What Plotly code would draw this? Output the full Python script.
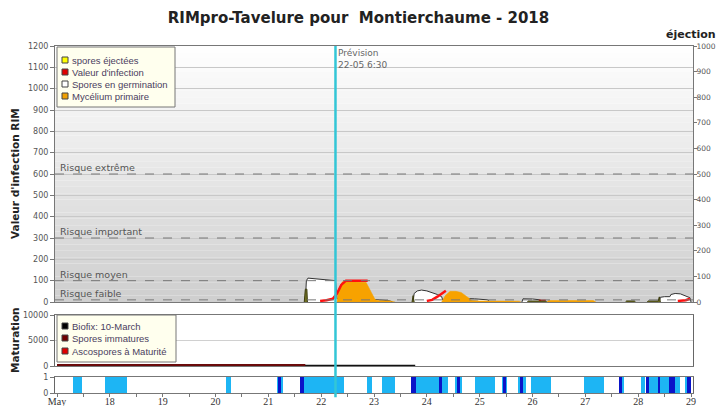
import plotly.graph_objects as go
import pandas as pd

# ---------------- data (days of May 2018, fractional) ----------------
germ_day = [21.70, 21.72, 21.75, 21.85, 22.00, 22.15, 22.27, 22.30, 22.60, 22.90, 23.10, 23.30, 23.35, None,
            23.74, 23.76, 23.82, 23.90, 24.00, 24.10, 24.20, 24.28, 24.30, 24.60, 24.65, 24.90, 25.15, 25.20, None,
            25.80, 25.82, 26.00, 26.15, 26.20, None,
            28.40, 28.42, 28.50, 28.60, 28.62, 28.70, 28.80, 28.90, 28.98, 29.00]
germ_val = [0, 100, 112, 110, 106, 103, 100, 15, 15, 12, 10, 5, 0, None,
            0, 40, 52, 56, 52, 45, 35, 25, 10, 12, 17, 15, 10, 0, None,
            0, 15, 14, 10, 0, None,
            0, 22, 25, 25, 35, 40, 38, 30, 20, 0]

myc_day = [22.30, 22.33, 22.40, 22.85, 22.95, 23.02, 23.05, 23.30, 23.40, None,
           24.28, 24.35, 24.44, 24.55, 24.65, 24.75, 24.85, 25.00, 25.30, 25.75, 25.78, None,
           26.27, 26.30, 27.15, 27.20]
myc_val = [0, 60, 95, 92, 45, 12, 8, 5, 0, None,
           0, 30, 50, 50, 45, 25, 8, 5, 4, 4, 0, None,
           0, 7, 7, 0]

inf_day = [21.98, 22.10, 22.22, 22.30, 22.38, 22.47, 22.88, None,
           24.00, 24.10, 24.20, 24.30, 24.36, None,
           26.12, 26.25, None,
           28.75, 28.90, 28.98]
inf_val = [5, 8, 15, 40, 80, 100, 100, None,
           5, 10, 25, 40, 53, None,
           5, 6, None,
           5, 8, 15]

eject_day = [21.68, 21.70, 21.73, 21.74, None, 23.72, 23.74, 23.76, None,
             25.90, 25.92, 26.25, 26.27, None, 27.76, 27.78, 27.93, 27.95, None,
             28.17, 28.19, 28.38, 28.40, 28.42]
eject_val = [0, 50, 50, 0, None, 0, 25, 0, None,
             0, 4, 4, 0, None, 0, 4, 4, 0, None,
             0, 4, 4, 20, 0]

risk_vals = [600, 300, 100, 10]
risk_labels = ["Risque extrême", "Risque important", "Risque moyen", "Risque faible"]

mat_black_day = [17.0, 23.78]
mat_black_val = [60, 60]
mat_red_day = [17.0, 21.70]
mat_red_val = [220, 220]
mat_ticks = [0, 5000, 10000]

wet_start = [17.30, 17.91, 20.19, 21.17, 21.68, 22.87, 23.15, 23.79, 24.54, 24.92, 25.42, 25.73, 25.98,
             26.98, 27.69, 28.06, 28.21, 28.70, 28.90]
wet_end = [17.47, 18.32, 20.29, 21.28, 22.44, 22.96, 23.39, 24.40, 24.66, 25.29, 25.52, 25.88, 26.35,
           27.36, 27.74, 28.12, 28.59, 28.80, 28.93]
rain_start = [21.18, 21.60, 23.70, 24.23, 24.57, 25.45, 25.77, 27.63, 28.15, 28.37, 28.59, 28.93]
rain_end = [21.24, 21.68, 23.79, 24.28, 24.62, 25.50, 25.82, 27.69, 28.21, 28.42, 28.70, 29.00]

day_ticks = list(range(17, 30))
day_labels = ["May"] + [str(d) for d in range(18, 30)]

forecast_day = 22 + 6.5 / 24
forecast_label = "Prévision<br>22-05 6:30"

legend1_names = ["spores éjectées", "Valeur d'infection", "Spores en germination", "Mycélium primaire"]
legend1_colors = ["#ffff00", "#e00000", "#ffffff", "#f0a000"]
legend2_names = ["Biofix: 10-March", "Spores immatures", "Ascospores à Maturité"]
legend2_colors = ["#000000", "#700000", "#e00000"]

# ---------------- helpers ----------------
BASE = pd.Timestamp("2018-05-01")
W, H = 717, 406
ML, MR, MT, MB = 55, 24, 46, 13
PW, PH = W - ML - MR, H - MT - MB


def t(d):
    return None if d is None else BASE + pd.to_timedelta(d - 1, unit="D")


def ts(days):
    return [t(d) for d in days]


def px(x):
    return (x - ML) / PW


def py(y):
    return (H - MB - y) / PH


FONT = "DejaVu Sans"
fig = go.Figure()

# main panel traces
fig.add_trace(go.Scatter(x=ts(germ_day), y=germ_val, mode="lines", fill="tozeroy",
                         fillcolor="#ffffff", line=dict(color="#333333", width=1),
                         xaxis="x3", yaxis="y", showlegend=False, hoverinfo="skip"))
fig.add_trace(go.Scatter(x=ts(myc_day), y=myc_val, mode="lines", fill="tozeroy",
                         fillcolor="#f7a200", line=dict(color="#f7a200", width=0.5),
                         xaxis="x3", yaxis="y", showlegend=False, hoverinfo="skip"))
fig.add_trace(go.Scatter(x=ts(eject_day), y=eject_val, mode="lines", fill="tozeroy",
                         fillcolor="#6f6f22", line=dict(color="#3c3c10", width=1),
                         xaxis="x3", yaxis="y4", showlegend=False, hoverinfo="skip"))
fig.add_trace(go.Scatter(x=ts(inf_day), y=inf_val, mode="lines",
                         line=dict(color="#ff1010", width=2.5),
                         xaxis="x3", yaxis="y", showlegend=False, hoverinfo="skip"))

# maturation
fig.add_trace(go.Scatter(x=ts(mat_black_day), y=mat_black_val, mode="lines",
                         line=dict(color="#111111", width=2), xaxis="x2", yaxis="y2",
                         showlegend=False, hoverinfo="skip"))
fig.add_trace(go.Scatter(x=ts(mat_red_day), y=mat_red_val, mode="lines",
                         line=dict(color="#6a0a0a", width=2), xaxis="x2", yaxis="y2",
                         showlegend=False, hoverinfo="skip"))


# wetness bars
def bars(starts, ends, color):
    xs = [t((s + e) / 2) for s, e in zip(starts, ends)]
    ws = [(e - s) * 86400000 for s, e in zip(starts, ends)]
    return go.Bar(x=xs, y=[1] * len(xs), width=ws, marker=dict(color=color, line=dict(width=0)),
                  xaxis="x", yaxis="y3", showlegend=False, hoverinfo="skip")


fig.add_trace(bars(wet_start, wet_end, "#1db5f4"))
fig.add_trace(bars(rain_start, rain_end, "#0a14c8"))

# ---------------- layout ----------------
shapes = []
N = 40
for i in range(N):
    g = int(round(255 - (255 - 206) * (i + 0.5) / N))
    col = f"rgb({g},{g},{g})"
    shapes.append(dict(type="rect", xref="x3 domain", yref="y domain", x0=0, x1=1,
                       y0=1 - (i + 1) / N, y1=1 - i / N, fillcolor=col, line=dict(width=0), layer="below"))
for v in risk_vals:
    shapes.append(dict(type="line", xref="x3 domain", yref="y", x0=0, x1=1, y0=v, y1=v,
                       line=dict(color="#777777", width=1, dash="dash"), layer="above"))
shapes.append(dict(type="line", xref="x", yref="paper", x0=t(forecast_day), x1=t(forecast_day),
                   y0=-0.012, y1=1, line=dict(color="#33c6d6", width=2.5), layer="above"))

annotations = []


def draw_legend(names, colors, box, item_y):
    x0, y0, x1, y1 = box
    shapes.append(dict(type="rect", xref="paper", yref="paper", x0=px(x0), x1=px(x1), y0=py(y1), y1=py(y0),
                       fillcolor="#ffffee", line=dict(color="#777777", width=1), layer="above"))
    for i, (nm, c) in enumerate(zip(names, colors)):
        yc = item_y[i]
        shapes.append(dict(type="rect", xref="paper", yref="paper", x0=px(62), x1=px(68),
                           y0=py(yc + 3), y1=py(yc - 3), fillcolor=c,
                           line=dict(color="#444444", width=1), layer="above"))
        annotations.append(dict(xref="paper", yref="paper", x=px(70), y=py(yc), text=nm, showarrow=False,
                                xanchor="left", yanchor="middle",
                                font=dict(family="Liberation Sans", size=9.5, color="#4a4060")))


draw_legend(legend1_names, legend1_colors, (57, 47, 175, 107), [60, 72, 84, 96])
draw_legend(legend2_names, legend2_colors, (57, 315, 176, 362), [326, 338, 351])

for v, lab in zip(risk_vals, risk_labels):
    annotations.append(dict(xref="x3 domain", yref="y", x=0.004, y=v, text=lab, showarrow=False,
                            xanchor="left", yanchor="bottom", yshift=-1,
                            font=dict(family=FONT, size=9.5, color="#555555")))
annotations.append(dict(xref="x", yref="paper", x=t(forecast_day), y=1, text=forecast_label,
                        showarrow=False, xanchor="left", yanchor="top", xshift=1, align="left",
                        font=dict(family=FONT, size=9, color="#666666")))
annotations.append(dict(xref="paper", yref="paper", x=px(15), y=py(174), text="<b>Valeur d'infection RIM</b>",
                        textangle=-90, showarrow=False, xanchor="center", yanchor="middle",
                        font=dict(family=FONT, size=10.5, color="#222")))
annotations.append(dict(xref="paper", yref="paper", x=px(15), y=py(340), text="<b>Maturation</b>",
                        textangle=-90, showarrow=False, xanchor="center", yanchor="middle",
                        font=dict(family=FONT, size=10.5, color="#222")))
annotations.append(dict(xref="paper", yref="paper", x=px(691), y=py(34), text="<b>éjection</b>",
                        showarrow=False, xanchor="center", yanchor="middle",
                        font=dict(family=FONT, size=11, color="#222")))

xr = [t(17 - 2 / 52.8), t(29 + 2 / 52.8)]
tickfont = dict(family=FONT, size=8, color="#555555")
xcommon = dict(range=xr, type="date", showgrid=False, zeroline=False, showline=True, mirror=True,
               linecolor="#777777", linewidth=1, automargin=False)

fig.update_layout(
    width=W, height=H,
    margin=dict(l=ML, r=MR, t=MT, b=MB, autoexpand=False),
    paper_bgcolor="#ffffff", plot_bgcolor="rgba(0,0,0,0)",
    barmode="overlay", bargap=0, showlegend=False,
    title=dict(text="<b>RIMpro-Tavelure pour  Montierchaume - 2018</b>", x=0.5, xref="container",
               y=1 - 18 / 406, yanchor="middle", font=dict(family=FONT, size=15, color="#222")),
    xaxis=dict(**xcommon, anchor="y3", tickmode="array", tickvals=ts(day_ticks), ticktext=day_labels,
               ticks="outside", ticklen=3, tickcolor="#777", ticklabelstandoff=-4,
               tickfont=dict(family="Liberation Serif", size=10, color="#333"),
               minor=dict(dtick=43200000, ticks="outside", ticklen=3, tickcolor="#777")),
    xaxis2=dict(**xcommon, anchor="y2", matches="x", showticklabels=False),
    xaxis3=dict(**xcommon, anchor="y", matches="x", showticklabels=False),
    yaxis=dict(domain=[py(302), 1], anchor="x3", range=[0, 1200], dtick=100, showgrid=True,
               gridcolor="#c8c8c8", gridwidth=1, zeroline=False, showline=True, linecolor="#777",
               ticks="outside", ticklen=4, tickcolor="#777", tickfont=tickfont, automargin=False),
    yaxis4=dict(overlaying="y", side="right", anchor="x3", range=[0, 1000], dtick=100, showgrid=False,
                zeroline=False, showline=True, linecolor="#777", ticks="outside", ticklen=3,
                tickcolor="#777", tickfont=dict(family=FONT, size=7.5, color="#555555"),
                ticklabelstandoff=-2, automargin=False),
    yaxis2=dict(domain=[py(366), py(315)], anchor="x2", range=[0, 10000], tickvals=mat_ticks,
                ticktext=[str(v) for v in mat_ticks],
                showgrid=True, gridcolor="#d0d0d0", zeroline=False, showline=True, mirror=True,
                linecolor="#666", ticks="outside", ticklen=4, tickcolor="#777", tickfont=tickfont,
                automargin=False),
    yaxis3=dict(domain=[0, py(377)], anchor="x", range=[0, 1], tickvals=[0, 1], showgrid=False,
                zeroline=False, showline=True, mirror=True, linecolor="#666", ticks="outside",
                ticklen=4, tickcolor="#777", tickfont=tickfont, automargin=False),
    shapes=shapes, annotations=annotations,
)

fig.write_html("out.html", config={"displayModeBar": False},
               post_script="document.body.style.margin='0px';")
